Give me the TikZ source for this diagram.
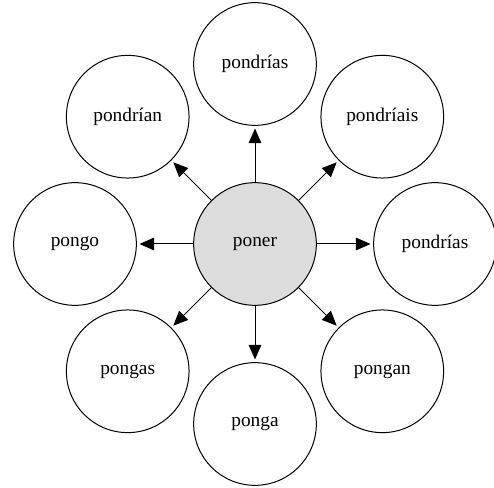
\documentclass[tikz,border=0pt]{standalone}
\usepackage{fontspec}
\setmainfont{Liberation Serif}
\usetikzlibrary{arrows.meta}
\definecolor{centerfill}{RGB}{220,220,220}
\begin{document}
\begin{tikzpicture}[x=0.75pt,y=-0.75pt,
  vnode/.style={circle,draw=black,line width=0.75pt,minimum size=92pt,inner sep=0pt,font=\fontsize{14.5pt}{17pt}\selectfont},
  edge/.style={draw=black,line width=0.75pt,-{Triangle[length=11pt,width=9.5pt]},shorten >=2pt}]
\useasboundingbox (0,0) rectangle (494,488);
\node[vnode,fill=centerfill] (poner) at (255,244) {poner};
\node[vnode] (n1) at (255,64) {pondrías};
\node[vnode] (n2) at (127.7,116.7) {pondrían};
\node[vnode] (n3) at (382.3,116.7) {pondríais};
\node[vnode] (n4) at (75,244) {pongo};
\node[vnode] (n5) at (435,244) {pondrías};
\node[vnode] (n6) at (127.7,371.3) {pongas};
\node[vnode] (n7) at (255,424) {ponga};
\node[vnode] (n8) at (382.3,371.3) {pongan};
\foreach \t in {n1,n2,n3,n4,n5,n6,n7,n8}
  \draw[edge] (poner) -- (\t);
\end{tikzpicture}
\end{document}
